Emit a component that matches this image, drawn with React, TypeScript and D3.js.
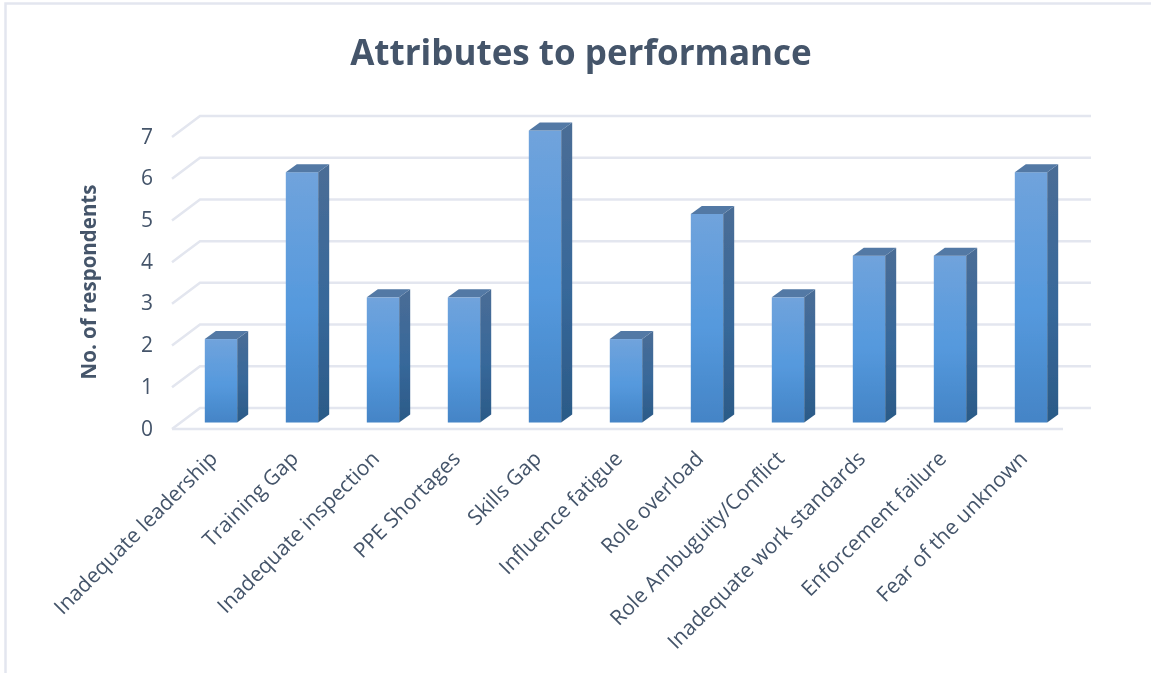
import * as d3 from "d3";

const categories = [
  "Inadequate leadership",
  "Training Gap",
  "Inadequate inspection",
  "PPE Shortages",
  "Skills Gap",
  "Influence fatigue",
  "Role overload",
  "Role Ambuguity/Conflict",
  "Inadequate work standards",
  "Enforcement failure",
  "Fear of the unknown",
];
const respondents = [2, 6, 3, 3, 7, 2, 5, 3, 4, 4, 6];
const yTicks = [0, 1, 2, 3, 4, 5, 6, 7];

const width = 1151;
const height = 673;
const textColor = "#44546a";
const gridColor = "#e3e6ef";
const font = "'Open Sans', Lato, sans-serif";

// front plane of the fake 3d box, the back wall is shifted by wallDx/wallDy
const wallDx = 28;
const wallDy = -21;
const barDx = 11;
const barDy = -8;

const x = d3.scaleBand().domain(categories).range([172, 1063]);
const y = d3.scaleLinear().domain([0, 7]).range([429, 137]);
const barHeight = (v: number) => (y(0) - y(v));
const barWidth = x.bandwidth() * 0.4;
const barBottom = y(0) - 6.5;

const poly = d3.line();

export default function App() {
  return (
    <svg
      width={width}
      height={height}
      style={{ position: "absolute", left: 0, top: 0, background: "#fff" }}
    >
      <defs>
        <linearGradient id="front" x1="0" y1="0" x2="0" y2="1">
          <stop offset="0" stopColor="#70a3dc" />
          <stop offset="0.55" stopColor="#5599dd" />
          <stop offset="1" stopColor="#4484c6" />
        </linearGradient>
        <linearGradient id="side" x1="0" y1="0" x2="0" y2="1">
          <stop offset="0" stopColor="#4a6d96" />
          <stop offset="0.55" stopColor="#37689a" />
          <stop offset="1" stopColor="#2b5a87" />
        </linearGradient>
        <filter id="soft" x="-5%" y="-5%" width="110%" height="110%">
          <feGaussianBlur stdDeviation="0.55" />
        </filter>
      </defs>

      <g filter="url(#soft)">
        <path
          d={`M5.5,${height}V3.5H${width}`}
          fill="none"
          stroke={gridColor}
          strokeWidth={2.5}
        />

        <text
          x={581}
          y={65}
          textAnchor="middle"
          fontFamily={font}
          fontWeight={700}
          fontSize={35}
          fill={textColor}
        >
          Attributes to performance
        </text>

        {yTicks.map((t) => (
          <g key={t}>
            <path
              d={poly([
                [x.range()[0], y(t)],
                [x.range()[0] + wallDx, y(t) + wallDy],
                [x.range()[1] + wallDx, y(t) + wallDy],
              ]) as string}
              fill="none"
              stroke={gridColor}
              strokeWidth={2.5}
            />
            <text
              x={147}
              y={y(t) + 6.5}
              textAnchor="middle"
              fontFamily={font}
              fontSize={21}
              fill={textColor}
            >
              {t}
            </text>
          </g>
        ))}
        <line
          x1={x.range()[0]}
          x2={x.range()[1]}
          y1={y(0)}
          y2={y(0)}
          stroke={gridColor}
          strokeWidth={2.5}
        />

        <text
          transform="translate(96,282) rotate(-90)"
          textAnchor="middle"
          fontFamily={font}
          fontWeight={700}
          fontSize={20.5}
          fill={textColor}
        >
          No. of respondents
        </text>

        {categories.map((c, i) => {
          const h = barHeight(respondents[i]);
          const x0 = (x(c) as number) + x.bandwidth() / 2 + 8.5 - barWidth / 2;
          const x1 = x0 + barWidth;
          const top = barBottom - h;
          return (
            <g key={c}>
              <rect x={x0} y={top} width={barWidth} height={h} fill="url(#front)" />
              <path
                d={(poly([
                  [x1, top],
                  [x1 + barDx, top + barDy],
                  [x1 + barDx, barBottom + barDy],
                  [x1, barBottom],
                ]) as string) + "Z"}
                fill="url(#side)"
              />
              <path
                d={(poly([
                  [x0, top],
                  [x0 + barDx, top + barDy],
                  [x1 + barDx, top + barDy],
                  [x1, top],
                ]) as string) + "Z"}
                fill="#5379a5"
              />
            </g>
          );
        })}

        {categories.map((c) => (
          <text
            key={c}
            transform={`translate(${(x(c) as number) + x.bandwidth() / 2 + 6},460) rotate(-45)`}
            textAnchor="end"
            fontFamily={font}
            fontSize={21}
            fill={textColor}
          >
            {c}
          </text>
        ))}
      </g>
    </svg>
  );
}
